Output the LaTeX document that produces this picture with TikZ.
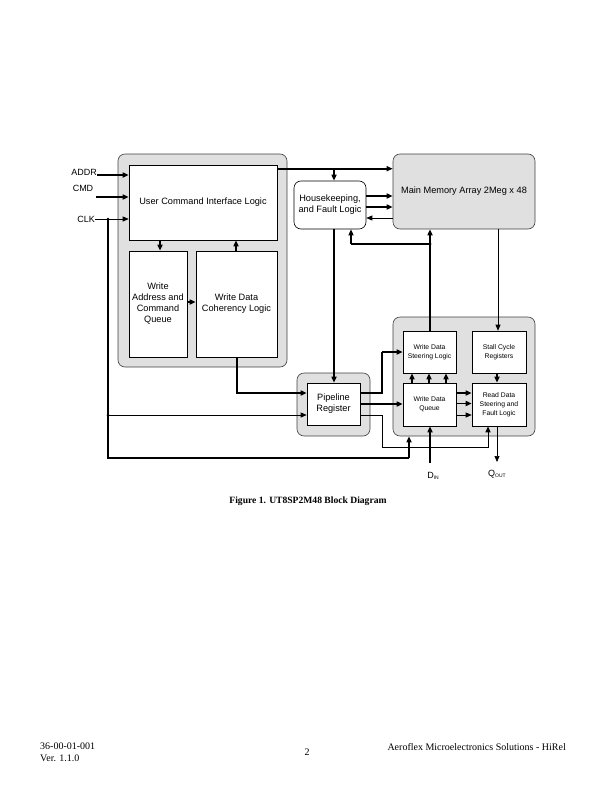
\documentclass[tikz,border=0pt]{standalone}
\usepackage{fontspec}
\setmainfont{Liberation Serif}
\newfontfamily\arialf{Liberation Sans}
\usetikzlibrary{arrows.meta,calc}
\begin{document}
\begin{tikzpicture}[x=1pt,y=-1pt,
  grp/.style={draw=black!75,line width=0.6pt,fill=black!12,rounded corners=7pt,inner sep=0pt},
  blk/.style={draw=black,line width=0.6pt,fill=white,inner sep=1pt,align=center,font=\arialf\fontsize{9.2}{11}\selectfont},
  sblk/.style={blk,font=\arialf\fontsize{6.8}{8.8}\selectfont},
  lbl/.style={inner sep=0pt,font=\arialf\fontsize{9}{11}\selectfont},
  thk/.style={line width=1.6pt,-{Triangle[length=6pt,width=5pt]}},
  thn/.style={line width=0.7pt,-{Triangle[length=6pt,width=5pt]}},
  thkl/.style={line width=1.6pt},
  thnl/.style={line width=0.7pt},
  dot/.style={circle,fill=black,inner sep=0pt,minimum size=3pt}]
\useasboundingbox (0,0) rectangle (612,792);
% groups
\node[grp,minimum width=169pt,minimum height=213pt] (lgrp) at (202.5,260.5) {};
\node[grp,minimum width=73pt,minimum height=63pt] (pgrp) at (333.5,404.5) {};
\node[grp,minimum width=142pt,minimum height=119pt] (rgrp) at (464,376.5) {};
\node[grp,draw=black!75,minimum width=142pt,minimum height=75pt,align=center,font=\arialf\fontsize{9.2}{11}\selectfont] (mm) at (464,191.5) {Main Memory Array 2Meg x 48};
% blocks
\node[blk,minimum width=148pt,minimum height=75pt] (ucil) at (203,202.5) {User Command Interface Logic};
\node[blk,minimum width=58pt,minimum height=106pt] (waq) at (158,304) {Write\\Address and\\Command\\Queue};
\node[blk,minimum width=81pt,minimum height=106pt] (wdc) at (236.5,304) {Write Data\\Coherency Logic};
\node[blk,rounded corners=7pt,minimum width=72pt,minimum height=48pt] (hk) at (330,205) {Housekeeping,\\and Fault Logic};
\node[blk,minimum width=53pt,minimum height=42pt] (pipe) at (333.5,404) {Pipeline\\Register};
\node[sblk,minimum width=53pt,minimum height=42pt] (wdsl) at (429.5,352) {Write Data\\Steering Logic};
\node[sblk,minimum width=54pt,minimum height=42pt] (scr) at (499,352) {Stall Cycle\\Registers};
\node[sblk,minimum width=53pt,minimum height=43pt] (wdq) at (429.5,404.5) {Write Data\\Queue};
\node[sblk,minimum width=54pt,minimum height=43pt] (rds) at (499,404.5) {Read Data\\Steering and\\Fault Logic};
% input labels
\node[lbl,anchor=base east] (addr) at (97,175) {ADDR};
\node[lbl] (cmd) at (83,188.5) {CMD};
\node[lbl,anchor=east] (clk) at (95,219) {CLK};
\coordinate (cmdst) at (96,197);
\draw[thk] (addr.base east) -- (addr.base east -| ucil.west);
\draw[thk] (cmdst) -- (cmdst -| ucil.west);
\draw[thn] (clk.east) -- (clk.east -| ucil.west);
\coordinate (clkj) at (108,219);
\coordinate (clkj2) at (108,415);
\node[dot] at (clkj) {};
\node[dot] at (clkj2) {};
\draw[thkl] (clkj) |- (409,458) coordinate (clkc);
\draw[thk] (clkc) -- (clkc |- rgrp.south);
\draw[thn] (clkj2) -- (clkj2 -| pipe.west);
% top wires
\coordinate (t1) at ($(ucil.north east)+(0,4)$);
\draw[thk] (t1) -- (t1 -| mm.west);
\draw[thk] (334,169) -- (334,169 |- hk.north);
\draw[thk] (hk.east |- 0,196) -- (mm.west |- 0,196);
\draw[thk] (hk.east |- 0,207) -- (mm.west |- 0,207);
\draw[thn] (mm.west |- 0,218) -- (hk.east |- 0,218);
\draw[thk] (334,229) -- (334,229 |- pipe.north);
\draw[thk] (wdsl.north -| 430,0) -- (430,0 |- mm.south);
\coordinate (mj) at (430,244);
\node[dot] at (mj) {};
\draw[line width=1.2pt] (mj) -- (351,244) coordinate (mk);
\draw[line width=1.2pt,-{Triangle[length=6pt,width=5pt]}] (mk) -- (mk |- hk.south);
\draw[thn] (mm.south -| 498,0) -- (498,0 |- scr.north);
% left group internal
\draw[thk] (ucil.south -| 160,0) -- (160,0 |- waq.north);
\draw[thk] (wdc.north -| 236,0) -- (236,0 |- ucil.south);
\draw[thk] (waq.east |- 0,302) -- (wdc.west |- 0,302);
\draw[thkl] (wdc.south -| 237,0) |- (290,393) coordinate (pw);
\draw[thk] (pw) -- (pw -| pipe.west);
% pipeline outputs
\draw[thkl] (pipe.east |- 0,393) -| (382,352) coordinate (sw);
\draw[thk] (sw) -- (sw -| wdsl.west);
\draw[thk] (pipe.east |- 0,404) -- (wdq.west |- 0,404);
\draw[line width=1pt] (pipe.east |- 0,415) -| (382,447) -| (488,440) coordinate (rb);
\draw[line width=1pt,-{Triangle[length=6pt,width=5pt]}] (rb) -- (rb |- rds.south);
% right group internal
\foreach \xx in {412,429,446}{\draw[thk] (wdq.north -| \xx,0) -- (\xx,0 |- wdsl.south);}
\draw[thk] (wdq.east |- 0,393) -- (rds.west |- 0,393);
\draw[thk] (wdq.east |- 0,403.5) -- (rds.west |- 0,403.5);
\draw[thn] (wdq.east |- 0,415) -- (rds.west |- 0,415);
\draw[thk] (scr.south -| 497,0) -- (497,0 |- rds.north);
\coordinate (qo) at (497,462);
\draw[thn] (rds.south -| 497,0) -- (qo);
\coordinate (di) at (430,463);
\draw[thk] (di) -- (di |- wdq.south);
\node[lbl] (dlab) at (433,476) {D\raisebox{-0.35ex}{\fontsize{5}{6}\selectfont IN}};
\node[lbl] (qlab) at (497,474) {Q\raisebox{-0.35ex}{\fontsize{5}{6}\selectfont OUT}};
% caption and footer
\node[inner sep=0pt,font=\fontsize{9.6}{11}\selectfont\bfseries] (cap) at (308,501) {Figure 1. UT8SP2M48 Block Diagram};
\node[inner sep=0pt,anchor=west,align=left,font=\fontsize{10}{12}\selectfont] (f1) at (40,752) {36-00-01-001\\Ver. 1.1.0};
\node[inner sep=0pt,font=\fontsize{10}{12}\selectfont] (f2) at (307,752) {2};
\node[inner sep=0pt,anchor=east,font=\fontsize{10}{12}\selectfont] (f3) at (566,747) {Aeroflex Microelectronics Solutions - HiRel};
\end{tikzpicture}
\end{document}
